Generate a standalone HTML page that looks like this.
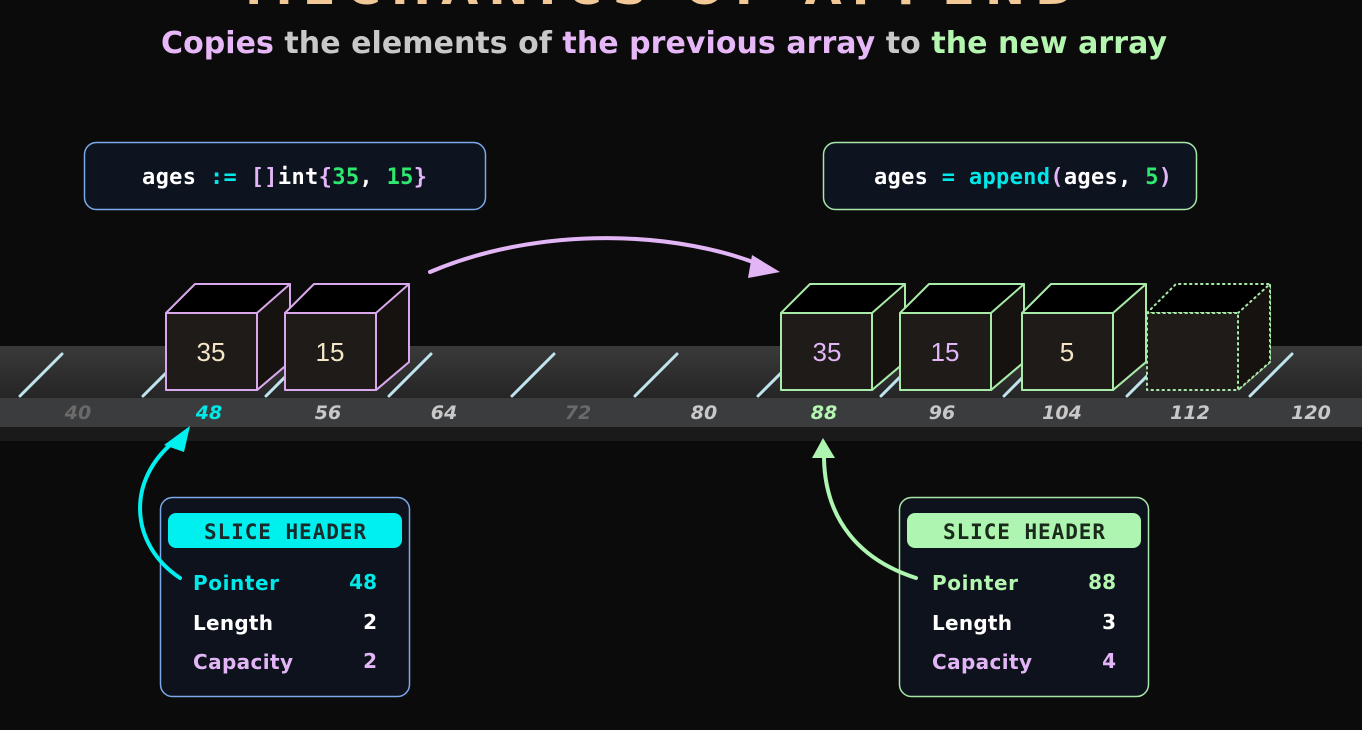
<!DOCTYPE html>
<html><head><meta charset="utf-8"><style>
html,body{margin:0;padding:0;background:#0c0b0b;width:1362px;height:730px;overflow:hidden}
svg{display:block}
.mono{font-family:"DejaVu Sans Mono","Liberation Mono",monospace;font-weight:bold}
.sans{font-family:"DejaVu Sans","Liberation Sans",sans-serif}
</style></head><body>
<svg width="1362" height="730" viewBox="0 0 1362 730" xmlns="http://www.w3.org/2000/svg">
<defs>
<linearGradient id="rail" x1="0" y1="0" x2="0" y2="1"><stop offset="0" stop-color="#3a3a3a"/><stop offset="1" stop-color="#252525"/></linearGradient>
</defs>
<text x="660" y="4" text-anchor="middle" class="sans" font-weight="bold" font-size="48" fill="#f2c896" textLength="830">MECHANICS OF APPEND</text>
<text x="664" y="53" text-anchor="middle" class="sans" font-size="30" font-weight="bold" fill="#c8c8c8" textLength="1006"><tspan fill="#e6b8f8">Copies</tspan> the elements of <tspan fill="#e6b8f8">the previous array</tspan> to <tspan fill="#b4f5b0">the new array</tspan></text>

<rect x="0" y="346" width="1362" height="52" fill="url(#rail)"/>
<rect x="0" y="398" width="1362" height="29" fill="#3b3c3e"/>
<rect x="0" y="427" width="1362" height="14" fill="#1a1a1a"/>
<g stroke="#bfe4ee" stroke-width="3" stroke-linecap="round">
<line x1="20" y1="396" x2="62" y2="354"/><line x1="143" y1="396" x2="185" y2="354"/><line x1="266" y1="396" x2="308" y2="354"/><line x1="389" y1="396" x2="431" y2="354"/><line x1="512" y1="396" x2="554" y2="354"/><line x1="635" y1="396" x2="677" y2="354"/><line x1="758" y1="396" x2="800" y2="354"/><line x1="881" y1="396" x2="923" y2="354"/><line x1="1004" y1="396" x2="1046" y2="354"/><line x1="1127" y1="396" x2="1169" y2="354"/><line x1="1250" y1="396" x2="1292" y2="354"/>
</g>
<g class="sans" font-size="19" font-weight="bold" font-style="italic" text-anchor="middle">
<text x="78" y="419" fill="#6a6a6a">40</text><text x="209" y="419" fill="#00e8e8">48</text><text x="328" y="419" fill="#c8c8c8">56</text><text x="444" y="419" fill="#c8c8c8">64</text><text x="578" y="419" fill="#6a6a6a">72</text><text x="704" y="419" fill="#c8c8c8">80</text><text x="824" y="419" fill="#b4f5b0">88</text><text x="942" y="419" fill="#c8c8c8">96</text><text x="1062" y="419" fill="#c8c8c8">104</text><text x="1190" y="419" fill="#c8c8c8">112</text><text x="1311" y="419" fill="#c8c8c8">120</text>
</g>

<g stroke-width="2" stroke-linejoin="round">
<g stroke="#d9a8ec">
<path d="M166,313 L195,284 L290,284 L290,362 L257,390 L257,313 Z" fill="#000"/><path d="M257,313 L290,284 L290,362 L257,390 Z" fill="#15120f"/><rect x="166" y="313" width="91" height="77" fill="#1e1b18"/>
<path d="M285,313 L314,284 L409,284 L409,362 L376,390 L376,313 Z" fill="#000"/><path d="M376,313 L409,284 L409,362 L376,390 Z" fill="#15120f"/><rect x="285" y="313" width="91" height="77" fill="#1e1b18"/>
</g>
<g stroke="#a8eaa8">
<path d="M781,313 L810,284 L905,284 L905,362 L872,390 L872,313 Z" fill="#000"/><path d="M872,313 L905,284 L905,362 L872,390 Z" fill="#15120f"/><rect x="781" y="313" width="91" height="77" fill="#1e1b18"/>
<path d="M900,313 L929,284 L1024,284 L1024,362 L991,390 L991,313 Z" fill="#000"/><path d="M991,313 L1024,284 L1024,362 L991,390 Z" fill="#15120f"/><rect x="900" y="313" width="91" height="77" fill="#1e1b18"/>
<path d="M1022,313 L1051,284 L1146,284 L1146,362 L1113,390 L1113,313 Z" fill="#000"/><path d="M1113,313 L1146,284 L1146,362 L1113,390 Z" fill="#15120f"/><rect x="1022" y="313" width="91" height="77" fill="#1e1b18"/>
</g>
<g stroke="#a8eaa8" stroke-dasharray="1.5 4" stroke-linecap="round">
<path d="M1147,313 L1176,284 L1270,284 L1270,362 L1238,390 L1238,313 Z" fill="#000"/><path d="M1238,313 L1270,284 L1270,362 L1238,390 Z" fill="#15120f"/><rect x="1147" y="313" width="91" height="77" fill="#1e1b18"/>
</g>
</g>
<g font-family="Liberation Sans, sans-serif" font-size="26" text-anchor="middle">
<text x="211" y="361" fill="#f5e6c8">35</text><text x="330" y="361" fill="#f5e6c8">15</text>
<text x="827" y="361" fill="#e2b6f6">35</text><text x="945" y="361" fill="#e2b6f6">15</text><text x="1067" y="361" fill="#f5e6c8">5</text>
</g>

<rect x="84.5" y="142.5" width="401" height="67" rx="12" fill="#0e1320" stroke="#7aa8e8" stroke-width="1.5"/>
<text x="142" y="184" class="mono" font-size="22" fill="#fff" textLength="285">ages <tspan fill="#00e8e8">:=</tspan> <tspan fill="#e2b6f6">[]</tspan>int<tspan fill="#e2b6f6">{</tspan><tspan fill="#2ee870">35</tspan>, <tspan fill="#2ee870">15</tspan><tspan fill="#e2b6f6">}</tspan></text>
<rect x="823.5" y="142.5" width="373" height="67" rx="12" fill="#0e1320" stroke="#a8e6a8" stroke-width="1.5"/>
<text x="874" y="184" class="mono" font-size="22" fill="#fff" textLength="298">ages <tspan fill="#00e8e8">=</tspan> <tspan fill="#00e8e8">append</tspan><tspan fill="#e2b6f6">(</tspan>ages, <tspan fill="#2ee870">5</tspan><tspan fill="#e2b6f6">)</tspan></text>

<path d="M430,272 C540,225 680,230 768,268" fill="none" stroke="#e2b6f6" stroke-width="4" stroke-linecap="round"/>
<path d="M752,255 L780,272 L748,278 Z" fill="#e2b6f6"/>

<rect x="160.5" y="497.5" width="249" height="199" rx="12" fill="#0e121c" stroke="#7aa8e8" stroke-width="1.5"/>
<rect x="168" y="513" width="234" height="35" rx="8" fill="#00f0f0"/>
<text x="204" y="539" class="mono" font-weight="normal" font-size="21" fill="#1a2a2a" textLength="162">SLICE HEADER</text>
<g class="sans" font-size="20" font-weight="bold">
<text x="193" y="590" fill="#00e8e8" textLength="86">Pointer</text><text x="377" y="589" text-anchor="end" fill="#00e8e8">48</text>
<text x="193" y="630" fill="#fff" textLength="80">Length</text><text x="377" y="629" text-anchor="end" fill="#fff">2</text>
<text x="193" y="669" fill="#e2b6f6" textLength="100">Capacity</text><text x="377" y="668" text-anchor="end" fill="#e2b6f6">2</text>
</g>
<rect x="899.5" y="497.5" width="249" height="199" rx="12" fill="#0e121c" stroke="#a8e6a8" stroke-width="1.5"/>
<rect x="907" y="513" width="234" height="35" rx="8" fill="#adf5b0"/>
<text x="943" y="539" class="mono" font-weight="normal" font-size="21" fill="#1a2a1a" textLength="162">SLICE HEADER</text>
<g class="sans" font-size="20" font-weight="bold">
<text x="932" y="590" fill="#b4f5b0" textLength="86">Pointer</text><text x="1116" y="589" text-anchor="end" fill="#b4f5b0">88</text>
<text x="932" y="630" fill="#fff" textLength="80">Length</text><text x="1116" y="629" text-anchor="end" fill="#fff">3</text>
<text x="932" y="669" fill="#e2b6f6" textLength="100">Capacity</text><text x="1116" y="668" text-anchor="end" fill="#e2b6f6">4</text>
</g>

<path d="M180,578 C130,545 125,480 176,440" fill="none" stroke="#00f0f0" stroke-width="4" stroke-linecap="round"/>
<path d="M164,445 L190,426 L184,452 Z" fill="#00f0f0"/>
<path d="M916,578 C860,560 825,520 824,458" fill="none" stroke="#adf5b0" stroke-width="4" stroke-linecap="round"/>
<path d="M812,458 L823,438 L835,458 Z" fill="#adf5b0"/>
</svg>
</body></html>
